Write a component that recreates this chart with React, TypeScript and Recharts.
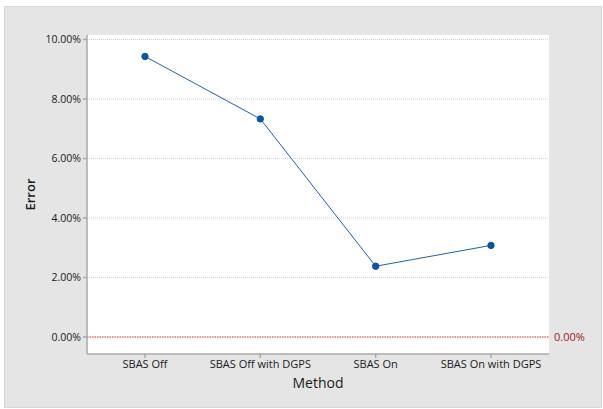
import { LineChart, Line, XAxis, YAxis, CartesianGrid, ReferenceLine } from 'recharts';

const methods = ['SBAS Off', 'SBAS Off with DGPS', 'SBAS On', 'SBAS On with DGPS'];
const errorPct = [9.43, 7.33, 2.38, 3.08];
const yTicks = [0, 2, 4, 6, 8, 10];
const gridValues = [2, 4, 6, 8, 10];

const data = methods.map((m, i) => ({ method: m, error: errorPct[i] }));

const font = '"Open Sans", "Noto Sans", sans-serif';
const frame = '#a8a8a8';

export default function App() {
  return (
    <div style={{ position: 'absolute', left: 0, top: 0, width: 603, height: 409, background: '#fff', fontFamily: font }}>
      <div
        style={{
          position: 'absolute',
          left: 4,
          top: 6,
          width: 596,
          height: 400,
          background: '#e5e5e5',
          border: '1px solid #d6d6d6',
        }}
      />
      <div style={{ position: 'absolute', left: 0, top: 0 }}>
        <LineChart width={603} height={409} data={data} margin={{ top: 35, right: 54, bottom: 0, left: 0 }}>
          <CartesianGrid
            horizontal
            vertical={false}
            horizontalValues={gridValues}
            fill="#ffffff"
            stroke="#d2d2d2"
            strokeDasharray="1 1"
          />
          <XAxis
            dataKey="method"
            padding={{ left: 58, right: 58 }}
            height={55}
            tickSize={4}
            tickMargin={2}
            stroke={frame}
            strokeWidth={1.5}
            tick={{ fill: '#1a1a1a', fontSize: 11, fontFamily: font }}
            label={{ value: 'Method', position: 'insideBottom', offset: 21, fill: '#1a1a1a', fontSize: 14, fontFamily: font }}
          />
          <XAxis xAxisId="top" dataKey="method" orientation="top" height={0} tick={false} tickLine={false} stroke={frame} strokeWidth={1.5} />
          <YAxis
            width={87}
            domain={[-0.57, 10.15]}
            ticks={yTicks}
            tickSize={4}
            tickMargin={2}
            stroke={frame}
            strokeWidth={1.5}
            tickFormatter={(v: number) => `${v.toFixed(2)}%`}
            tick={{ fill: '#1a1a1a', fontSize: 10.5, fontFamily: font }}
            label={{
              value: 'Error',
              angle: -90,
              position: 'insideLeft',
              offset: 30,
              fill: '#1a1a1a',
              fontSize: 13,
              fontWeight: 600,
              fontFamily: font,
              style: { textAnchor: 'middle' },
            }}
          />
          <YAxis yAxisId="right" orientation="right" width={0} tick={false} tickLine={false} stroke={frame} strokeWidth={1.5} />
          <ReferenceLine
            y={0}
            stroke="#e06a6a"
            strokeWidth={1.5}
            strokeDasharray="1.5 1"
            label={{ value: '0.00%', position: 'right', fill: '#a01818', fontSize: 11, fontFamily: font }}
          />
          <Line
            dataKey="error"
            stroke="#1f5fb0"
            strokeWidth={1}
            dot={{ r: 3.2, fill: '#0a55a8', stroke: '#0a55a8', strokeWidth: 1 }}
            isAnimationActive={false}
          />
        </LineChart>
      </div>
    </div>
  );
}
